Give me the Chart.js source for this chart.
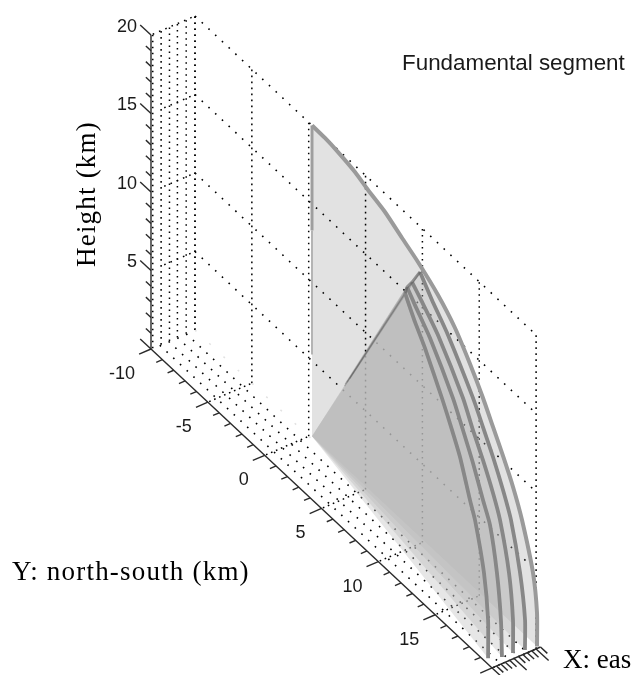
<!DOCTYPE html>
<html>
<head>
<meta charset="utf-8">
<style>html,body{margin:0;padding:0;background:#fff;overflow:hidden}canvas{display:block}</style>
<script src="https://cdn.jsdelivr.net/npm/chart.js@4"></script>
</head>
<body>
<canvas id="c" width="634" height="675"></canvas>
<script>
// Axis ticks and grid (km)
const xTickValues = [0,1,2,3,4,5,6,7,8,9,10,11];
const yTickValues = [-10,-9,-8,-7,-6,-5,-4,-3,-2,-1,0,1,2,3,4,5,6,7,8,9,10,11,12,13,14,15,16,17,18,19,20];
const zTickValues = [0,1,2,3,4,5,6,7,8,9,10,11,12,13,14,15,16,17,18,19,20];
const yTickLabels = [-10,-5,0,5,10,15];
const zTickLabels = [5,10,15,20];
const floorRows = [2,4,6,8,10];
const sideColumns = [0.4,2.3,4.2,6,8,10];
const wallColumns = [-10,-5,0,5,10,15,20];
const wallRows = [5,10,15,20];
const crossRows = [-5,0,5,10,15,20];

// Fundamental segment outlines: [y, z] in km, x fixed for each surface
const arcX = [10,7.75,5.5,3.25,1];
const fanBase = [10,0.29,0.2];
const arc10Y = [0.29,1.43,2.58,4.07,5.22,6.71,8.21,9.61,11.37,12.87,14.19,15.33,16.21,17.09,17.97,18.76,19.73,20.08,20.08];
const arc10Z = [20,19.97,19.85,19.59,19.22,18.83,18.19,17.61,16.7,15.61,14.21,12.82,11.57,10.32,8.94,7.37,4.65,2.34,0.2];
const arc8Y = [10.66,11.71,13.12,15.32,16.2,17.08,17.96,18.66,19.46,19.9,19.89];
const arc8Z = [17.96,16.89,15.61,13.09,11.83,10.52,9.01,7.58,4.75,2.04,0.13];
const arc6Y = [10.83,11.71,13.11,15.31,16.19,17.07,17.95,18.57,19.36,19.71,19.71];
const arc6Z = [17.7,17.03,15.87,13.35,11.9,10.59,9.09,7.78,4.95,2.19,0.08];
const arc3Y = [11.26,11.96,13.28,15.3,16.18,17.06,17.94,18.56,19.17,19.52,19.61];
const arc3Z = [17.95,17.27,16.07,13.61,12.17,10.67,8.9,7.73,5.09,2.33,0.04];
const arc1Y = [11.95,12.83,13.71,15.2,16.09,16.79,17.67,18.11,18.9,19.26,19.26];
const arc1Z = [18.31,17.06,15.99,13.82,12.38,11.14,8.99,8.02,5.18,2.43,0];

// View of the 3-D box on the page
const P = (x,y,z) => ({x:151+4.4*x+11.37*(y+10), y:349-1.9*x+10.63*(y+10)-15.7*z});

const datasets = [];
function add(points, o) {
  const d = Object.assign({
    data: points, showLine: true, pointRadius: 0, pointHoverRadius: 0, fill: false,
    borderColor: '#111', borderWidth: 1, tension: 0, clip: false, borderCapStyle: 'butt'
  }, o);
  d.order = -datasets.length;
  datasets.push(d);
}
const dotV = {borderDash:[1.6,4.4], borderColor:'#000', borderWidth:1.5};
const dotD = {borderDash:[1.6,7.6], borderColor:'#000', borderWidth:1.6};
const dotC = {borderDash:[1.6,3.8], borderColor:'#000', borderWidth:1.5};

// dotted box
wallColumns.forEach(y => add([P(10,y,0),P(10,y,20)], dotV));
sideColumns.forEach(x => add([P(x,-10,0),P(x,-10,20)], dotV));
wallRows.forEach(z => add([P(10,-10,z),P(10,20,z)], dotD));
wallRows.forEach(z => add([P(z===20?0.4:3,-10,z),P(10,-10,z)], Object.assign({}, dotC, {borderDash:[1.6,5.2]})));
floorRows.slice(0,4).forEach(x => add([P(x,-10,0),P(x,20,0)], dotD));
crossRows.forEach(y => add([P(0.3,y,0),P(10,y,0)], dotC));
add([P(10,-10,0),P(10,0.29,0)], {borderDash:[2,17.5], borderColor:'#e2e2e2', borderWidth:1.5});

// surfaces
const arcs = [[arc10Y,arc10Z],[arc8Y,arc8Z],[arc6Y,arc6Z],[arc3Y,arc3Z],[arc1Y,arc1Z]];
const arcPts = arcs.map((a,i) => a[0].map((y,k) => P(arcX[i],y,a[1][k])));
const baseP = P(...fanBase);
add([baseP, ...arcPts[0]], {showLine:false, polyFill:'rgba(0,0,0,0.115)'});
arcPts.slice(1).forEach(p => add([baseP, ...p], {showLine:false, polyFill:'rgba(182,182,182,0.35)'}));
arcPts.slice(1).forEach(p => {
  const t = p[0], m = {x: baseP.x+(t.x-baseP.x)*0.35, y: baseP.y+(t.y-baseP.y)*0.35};
  add([m, t], {borderColor:'rgba(60,60,60,0.26)', borderWidth:1.4});
});
add([P(10,0.29,20),P(10,0.29,13.3)], {borderColor:'#9e9e9e', borderWidth:3});
add([P(10,0.29,13.3),P(10,0.29,5.4)], {borderColor:'#b4b4b4', borderWidth:2});
arcPts.slice(1).forEach(p => add(p, {borderColor:'#878787', borderWidth:3.8, tension:0.2}));
add(arcPts.slice(1).map(p => p[0]).reverse(), {borderColor:'rgba(90,90,90,0.6)', borderWidth:3});
add(arcPts[0], {borderColor:'#9a9a9a', borderWidth:4, tension:0.2});

// axes
const axisStyle = {borderColor:'#2a2a2a', borderWidth:1.4};
add([P(0,-10,0),P(0,-10,20)], axisStyle);
add([P(0,-10,0),P(0,20,0)], axisStyle);
add([P(0,20,0),P(11,20,0)], axisStyle);
const tickStyle = {borderColor:'#2a2a2a', borderWidth:1.4};
yTickValues.forEach(y => add([P(0,y,0),P(y%5===0?-2.7:-1.4,y,0)], tickStyle));
zTickValues.forEach(z => add([P(0,-10,z),P(0,z%5===0?-10.95:-10.45,z)], tickStyle));
xTickValues.forEach(x => add([P(x,20,0),P(x,x%5===0?21.1:20.6,0)], tickStyle));

const textLabels = {
  id: 'textLabels',
  afterDraw(chart) {
    const c = chart.ctx, sx = chart.scales.x, sy = chart.scales.y;
    const at = p => [sx.getPixelForValue(p.x), sy.getPixelForValue(p.y)];
    c.save();
    c.fillStyle = '#1a1a1a';
    c.font = '18px "Liberation Sans"';
    c.textBaseline = 'middle';
    c.textAlign = 'right';
    yTickLabels.forEach(v => { const [a,b] = at(P(0,v,0)); c.fillText(String(v), a-16, b+25); });
    zTickLabels.forEach(v => { const [a,b] = at(P(0,-10,v)); c.fillText(String(v), a-14, b-8); });
    c.textAlign = 'left';
    c.font = '22.4px "Liberation Sans"';
    c.fillText('Fundamental segment', 402, 64);
    c.fillStyle = '#000';
    c.font = '27px "Liberation Serif"';
    c.fillText('X: eas', 563, 661);
    c.letterSpacing = '1.2px';
    c.fillText('Y: north-south (km)', 12, 573);
    c.translate(88, 194);
    c.rotate(-Math.PI/2);
    c.textAlign = 'center';
    c.fillText('Height (km)', 0, 0);
    c.restore();
  }
};
const polyFill = {
  id: 'polyFill',
  beforeDatasetDraw(chart, args) {
    const ds = chart.data.datasets[args.index];
    if (!ds.polyFill) return;
    const pts = args.meta.data, c = chart.ctx;
    c.save();
    c.beginPath();
    pts.forEach((e,i) => i ? c.lineTo(e.x,e.y) : c.moveTo(e.x,e.y));
    c.closePath();
    c.fillStyle = ds.polyFill;
    c.fill();
    c.restore();
  }
};

new Chart(document.getElementById('c'), {
  type: 'scatter',
  data: {datasets},
  plugins: [polyFill, textLabels],
  options: {
    responsive: false, animation: false, events: [],
    layout: {padding: 0},
    plugins: {legend:{display:false}, tooltip:{enabled:false}, title:{display:false}},
    scales: {
      x: {type:'linear', display:false, min:0, max:634},
      y: {type:'linear', display:false, min:0, max:675, reverse:true}
    }
  }
});
</script>
</body>
</html>
